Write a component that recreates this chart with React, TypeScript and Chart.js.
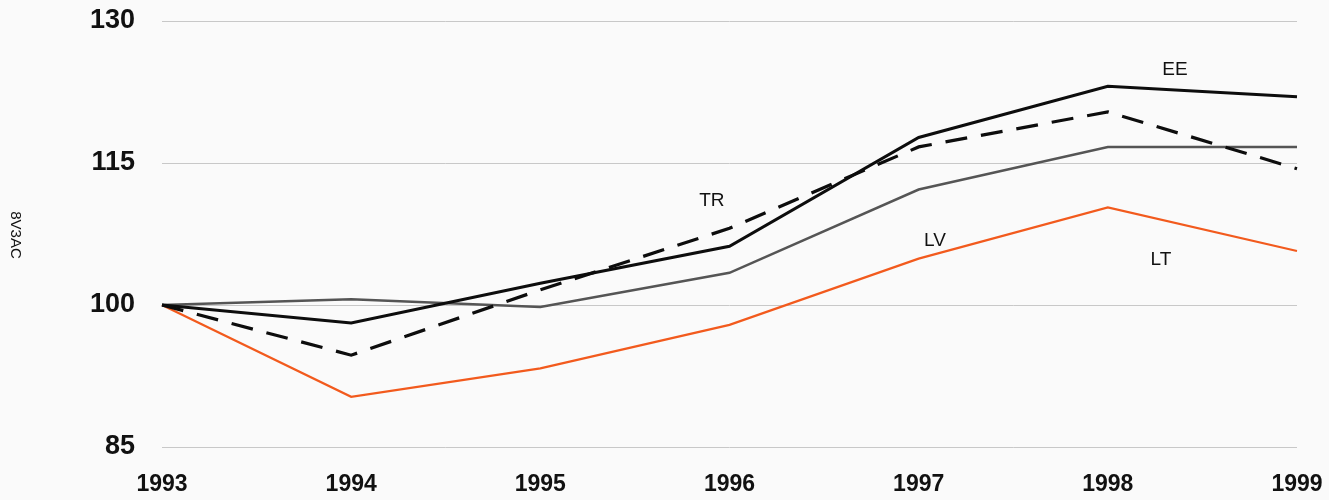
import React, { useEffect, useRef } from "react";
import { Chart, registerables } from "chart.js";

Chart.register(...registerables);

const years = ["1993", "1994", "1995", "1996", "1997", "1998", "1999"];
const eeValues = [100, 98.1, 102.3, 106.2, 117.7, 123.1, 122.0];
const trValues = [100, 94.7, 101.6, 108.1, 116.7, 120.4, 114.4];
const lvValues = [100, 100.6, 99.8, 103.4, 112.2, 116.7, 116.7];
const ltValues = [100, 90.3, 93.3, 97.9, 104.9, 110.3, 105.7];
const yTicks = [85, 100, 115, 130];
const yTitle = "8V3AC";

const seriesNames = ["EE", "TR", "LV", "LT"];
const nameIndex = [5.355, 2.907, 4.086, 5.281];
const nameValue = [124.8, 111.0, 106.8, 104.8];

const labelPlugin = {
  id: "lineNames",
  afterDatasetsDraw(chart: any) {
    const { ctx, scales } = chart;
    const xs = scales.x;
    const ys = scales.y;
    ctx.save();
    ctx.fillStyle = "#111";
    ctx.font = "19px 'Liberation Sans', Arial, sans-serif";
    ctx.textAlign = "center";
    ctx.textBaseline = "middle";
    const step = xs.getPixelForValue(1) - xs.getPixelForValue(0);
    seriesNames.forEach((n, i) => {
      const x = xs.getPixelForValue(0) + step * nameIndex[i];
      const y = ys.getPixelForValue(nameValue[i]);
      ctx.fillText(n, x, y);
    });
    // rotated axis title (clockwise)
    ctx.font = "15px 'Liberation Sans', Arial, sans-serif";
    ctx.translate(15, 235);
    ctx.rotate(Math.PI / 2);
    ctx.fillText(yTitle, 0, 0);
    ctx.restore();
  },
};

export default function App() {
  const ref = useRef<HTMLCanvasElement | null>(null);
  useEffect(() => {
    document.body.style.margin = "0";
    document.body.style.background = "#fafafa";
    const chart = new Chart(ref.current as HTMLCanvasElement, {
      type: "line",
      data: {
        labels: years,
        datasets: [
          {
            label: "EE",
            data: eeValues,
            borderColor: "#0d0d0d",
            borderWidth: 3,
            pointRadius: 0,
            tension: 0,
          },
          {
            label: "TR",
            data: trValues,
            borderColor: "#0d0d0d",
            borderWidth: 3.2,
            borderDash: [22, 14],
            pointRadius: 0,
            tension: 0,
          },
          {
            label: "LV",
            data: lvValues,
            borderColor: "#555555",
            borderWidth: 2.5,
            pointRadius: 0,
            tension: 0,
          },
          {
            label: "LT",
            data: ltValues,
            borderColor: "#f25a1d",
            borderWidth: 2.2,
            pointRadius: 0,
            tension: 0,
          },
        ],
      },
      options: {
        animation: false,
        responsive: false,
        maintainAspectRatio: false,
        layout: { padding: { left: 0, right: 32, top: 21, bottom: 0 } },
        plugins: { legend: { display: false }, tooltip: { enabled: false } },
        scales: {
          x: {
            offset: false,
            grid: { display: false, drawTicks: false },
            border: { display: false },
            ticks: {
              color: "#111",
              padding: 24,
              maxRotation: 0,
              autoSkip: false,
              font: { family: "'Liberation Sans', Arial, sans-serif", size: 23, weight: "bold" },
            },
            afterFit(scale: any) {
              scale.height = 53;
              scale.paddingLeft = 0;
              scale.paddingRight = 0;
            },
          },
          y: {
            min: 85,
            max: 130,
            afterBuildTicks(scale: any) {
              scale.ticks = yTicks.map((v) => ({ value: v }));
            },
            grid: { color: "#c8c8c8", lineWidth: 1, drawTicks: false },
            border: { display: false },
            ticks: {
              color: "#111",
              padding: 27,
              font: { family: "'Liberation Sans', Arial, sans-serif", size: 27, weight: "bold" },
            },
            afterFit(scale: any) {
              scale.width = 162;
              scale.paddingTop = 0;
              scale.paddingBottom = 0;
            },
          },
        },
      },
      plugins: [labelPlugin],
    });
    return () => chart.destroy();
  }, []);
  return (
    <div style={{ position: "absolute", left: 0, top: 0, width: 1329, height: 500, background: "#fafafa" }}>
      <canvas ref={ref} width={1329} height={500} style={{ width: 1329, height: 500 }} />
    </div>
  );
}
